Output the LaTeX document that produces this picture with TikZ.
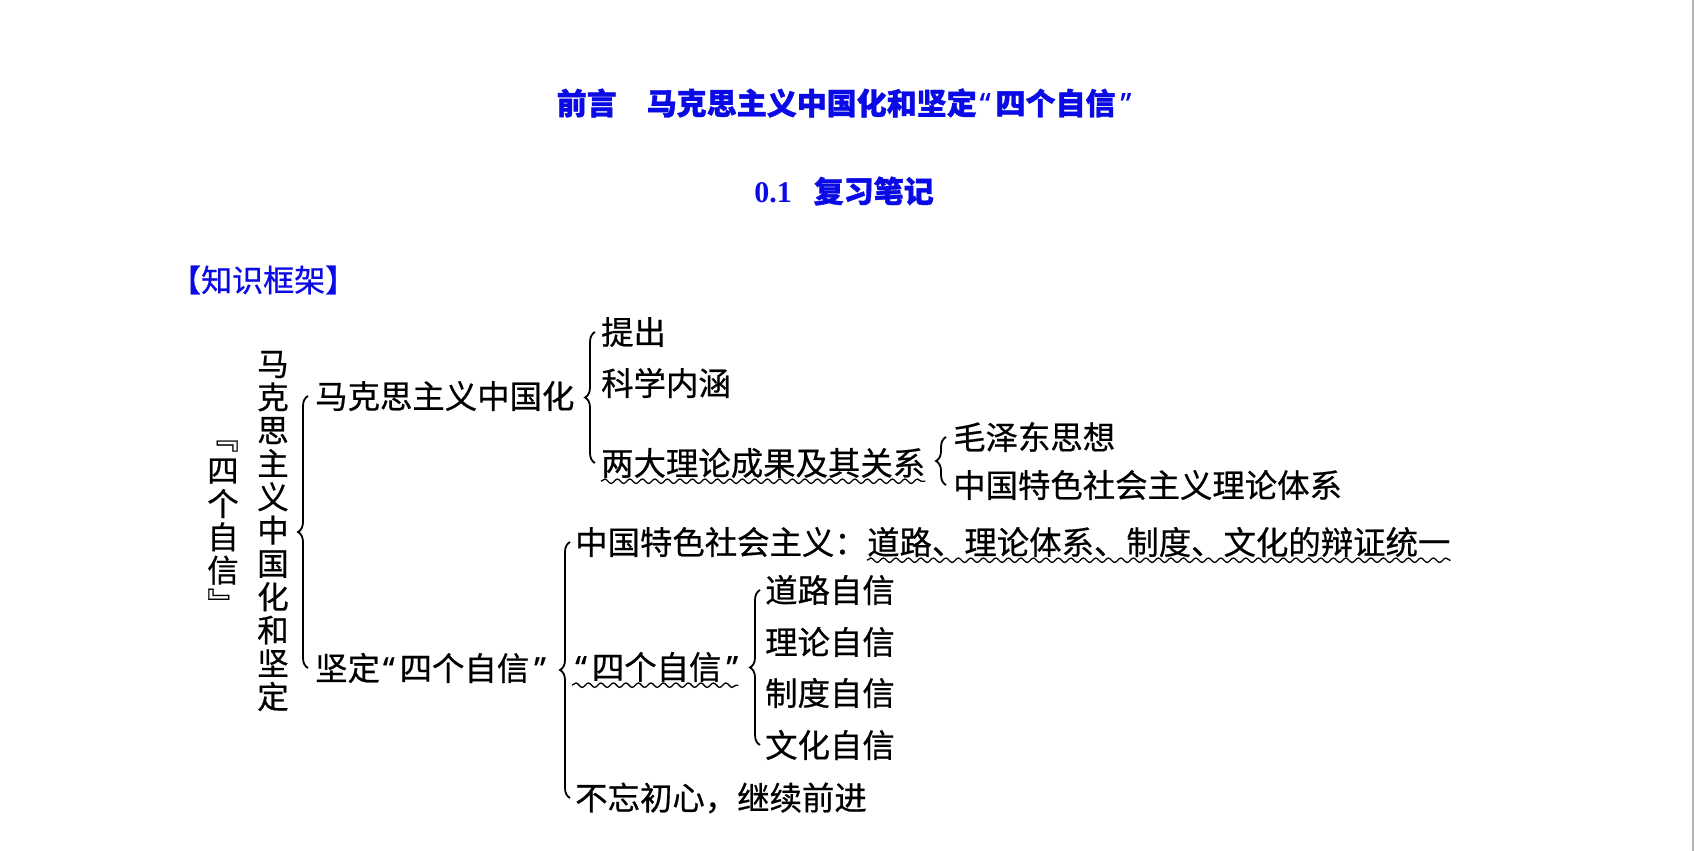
\documentclass[tikz,border=0pt]{standalone}
\usepackage{fontspec}
\usepackage{tikz}
\usetikzlibrary{positioning,decorations.pathreplacing,decorations.pathmorphing}
\newfontfamily\cjk{Noto Sans CJK SC}[FakeBold=0.6,BoldFeatures={FakeBold=1.2}]
\newfontfamily\latin{Noto Sans}[FakeBold=0.6,BoldFeatures={FakeBold=1.2}]
\newfontfamily\tnr{Liberation Serif}
\definecolor{TitleBlue}{HTML}{0A0AE6}
\newcommand\oq{\hspace{3pt}{\latin “}\hspace{5pt}}
\newcommand\cq{\hspace{5pt}{\latin ”}\hspace{3pt}}

\begin{document}
\begin{tikzpicture}[x=1pt,y=-1pt,
  txt/.style={anchor=west,inner sep=0pt,font=\cjk\fontsize{32.4}{34}\selectfont},
  vtxt/.style={inner sep=0pt,align=center,font=\cjk\fontsize{31.5}{33.3}\selectfont},
  br/.style={decorate,decoration={brace,amplitude=10pt},line width=1.8pt},
  wavy/.style={decorate,decoration={snake,amplitude=2.2pt,segment length=12.5pt},line width=1.3pt}]
\useasboundingbox (0,0) rectangle (1695,851);
\draw[gray!60,line width=1.5pt] (1693,0) -- (1693,851);
% headings
\node[inner sep=0pt,text=TitleBlue,font=\cjk\bfseries\fontsize{30}{31}\selectfont](title) at (844,103){前言　马克思主义中国化和坚定\oq 四个自信\cq};
\node[inner sep=0pt,text=TitleBlue,font=\fontsize{30}{31}\selectfont](sub) at (844,191){{\tnr\bfseries 0.1}\hspace{22pt}{\cjk\bfseries 复习笔记}};
\node[txt,text=TitleBlue,font=\cjk\fontsize{31}{33}\selectfont](frame) at (170,280){【知识框架】};
% vertical columns
\node[vtxt](sgzx) at (223,528){﹃\\四\\个\\自\\信\\﹄};
\node[vtxt](mkzg) at (273,531){马\\克\\思\\主\\义\\中\\国\\化\\和\\坚\\定};
% tree
\node[txt](mkszgh) at (315,396){马克思主义中国化};
\node[txt](jdsg) at (315,668){坚定\oq 四个自信\cq};
\node[txt](tc) at (601,332){提出};
\node[txt](kxnh) at (601,383){科学内涵};
\node[txt](ldll) at (601,463){两大理论成果及其关系};
\node[txt](mzd) at (953,437){毛泽东思想};
\node[txt](zgts) at (953,485){中国特色社会主义理论体系};
\node[txt](ts1) at (575,542){中国特色社会主义：};
\node[txt,right=0pt of ts1](ts2){道路、理论体系、制度、文化的辩证统一};
\node[txt](sgzx2) at (572,667){\oq 四个自信\cq};
\node[txt](dlzx) at (765,590){道路自信};
\node[txt](llzx) at (765,642){理论自信};
\node[txt](zdzx) at (765,693){制度自信};
\node[txt](whzx) at (765,745){文化自信};
\node[txt](bwcx) at (575,798){不忘初心，继续前进};
% braces
\draw[br] ([xshift=-7pt]jdsg.west) -- ([xshift=-7pt]mkszgh.west);
\draw[br] ([xshift=-6pt]ldll.west) -- ([xshift=-6pt]tc.west);
\draw[br] ([xshift=-7pt]zgts.west) -- ([xshift=-7pt]mzd.west);
\draw[br] ([xshift=-5pt]bwcx.west) -- ([xshift=-5pt]ts1.west);
\draw[br] ([xshift=-5pt]whzx.west) -- ([xshift=-5pt]dlzx.west);
% wavy underlines
\draw[wavy] ([yshift=-3pt]ldll.south west) -- ([yshift=-3pt]ldll.south east);
\draw[wavy] ([yshift=-3pt]ts2.south west) -- ([yshift=-3pt]ts2.south east);
\draw[wavy] ([yshift=-3pt]sgzx2.south west) -- ([yshift=-3pt]sgzx2.south east);
\end{tikzpicture}
\end{document}
